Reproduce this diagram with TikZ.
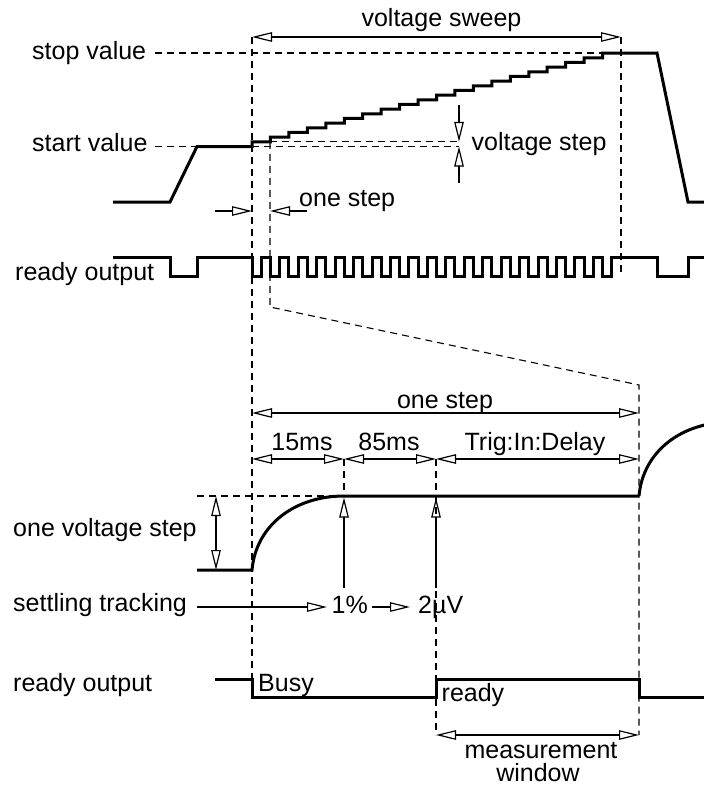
\documentclass[tikz,border=0pt]{standalone}
\usepackage{fontspec}
\setmainfont{Liberation Sans}
\usetikzlibrary{arrows.meta}
\begin{document}
\begin{tikzpicture}[x=1pt,y=-1pt,
  sigline/.style={line width=3pt, line join=miter},
  tipA/.tip={Triangle[open,length=20pt,width=9.5pt]},
  dimline/.style={line width=1.2pt, tipA-tipA},
  dimarrow/.style={line width=1.2pt, -tipA},
  guideline/.style={line width=1.1pt, dash pattern=on 7pt off 5pt},
  lbl/.style={font=\fontsize{25}{30}\selectfont, inner sep=0pt, anchor=base west},
  lblc/.style={lbl, anchor=base},
]
\useasboundingbox (0,0) rectangle (704,787);

% labels
\node[lbl] (stopv) at (32,59.5) {stop value};
\node[lbl] (startv) at (32,151.5) {start value};
\node[lblc] (sweep) at (441.5,27) {voltage sweep};
\node[lbl] (vstep) at (471.5,150) {voltage step};
\node[lbl] (onestepA) at (299,206.5) {one step};
\node[lbl] (readyA) at (15,280) {ready output};
\node[lblc] (onestepB) at (445,408) {one step};
\node[lblc] (t15) at (302,450) {15ms};
\node[lblc] (t85) at (389,450) {85ms};
\node[lblc] (tdel) at (535,450) {Trig:In:Delay};
\node[lbl] (ovs) at (13,536.5) {one voltage step};
\node[lbl] (settle) at (13,611) {settling tracking};
\node[lbl] (pct) at (331.5,613) {1\%};
\node[lbl] (uv) at (418,613) {2µV};
\node[lbl] (readyB) at (13,691.5) {ready output};
\node[lbl] (busy) at (258,691.5) {Busy};
\node[lbl] (rdy) at (441.5,701.5) {ready};
\node[lblc] (meas) at (541,758) {measurement};
\node[lblc] (win) at (538,781) {window};

% guide (dashed) lines
\draw[guideline] (155,53) -- (603,53);
\draw[guideline] (155,146.5) -- (197,146.5);
\draw[guideline] (252,146.5) -- (459,146.5);
\draw[guideline] (270,141.8) -- (459,141.8);
\draw[guideline] (252,37) -- (252,679);
\draw[guideline] (621,37) -- (621,276);
\draw[guideline] (270,141.8) -- (270,307) -- (639,385) -- (639,735);
\draw[guideline] (344,459) -- (344,496);
\draw[guideline] (436,459) -- (436,735);
\draw[guideline] (197,496) -- (344,496);

% dimension arrows
\draw[dimline] (252,37) -- (621,37);
\draw[dimarrow] (215,211) -- (252,211);
\draw[dimarrow] (307,211) -- (270,211);
\draw[dimarrow] (459,105) -- (459,141.8);
\draw[dimarrow] (459,183) -- (459,146.5);
\draw[dimline] (252,413) -- (639,413);
\draw[dimline] (252,459) -- (344,459);
\draw[dimline] (344,459) -- (436,459);
\draw[dimline] (436,459) -- (639,459);
\draw[dimline] (216,496) -- (216,570);
\draw[dimarrow] (344,588) -- (344,497.5);
\draw[dimarrow] (436,588) -- (436,497.5);
\draw[dimarrow] (197,607) -- (327,607);
\draw[dimarrow] (372,607) -- (410,607);
\draw[dimline] (436,735) -- (639,735);

% signals
\draw[sigline] (113,202) -- (170,202) -- (197,146.5) -- (252,146.5)
  \foreach \k in {1,...,20}{ -- ++(0,-4.67) -- ++(18.45,0) }
  -- (657,53) -- (688,202) -- (704,202);
\draw[sigline] (113,257) -- (170,257) -- (170,276) -- (197,276) -- (197,257) -- (252,257)
  \foreach \k in {1,...,20}{ -- ++(0,19) -- ++(9.3,0) -- ++(0,-19) -- ++(9.15,0) }
  -- (657,257) -- (657,276) -- (688,276) -- (688,257) -- (704,257);
\draw[sigline] (197,570) -- (252,570) .. controls (256,525) and (295,496) .. (344,496) -- (639,496);
\begin{scope}
  \clip (0,0) rectangle (704,787);
  \draw[sigline] (639,496) .. controls (643,451) and (682,422) .. (731,422);
\end{scope}
\draw[sigline] (215,679) -- (252,679) -- (252,697) -- (436,697) -- (436,679) -- (639,679) -- (639,697) -- (704,697);
\end{tikzpicture}
\end{document}
